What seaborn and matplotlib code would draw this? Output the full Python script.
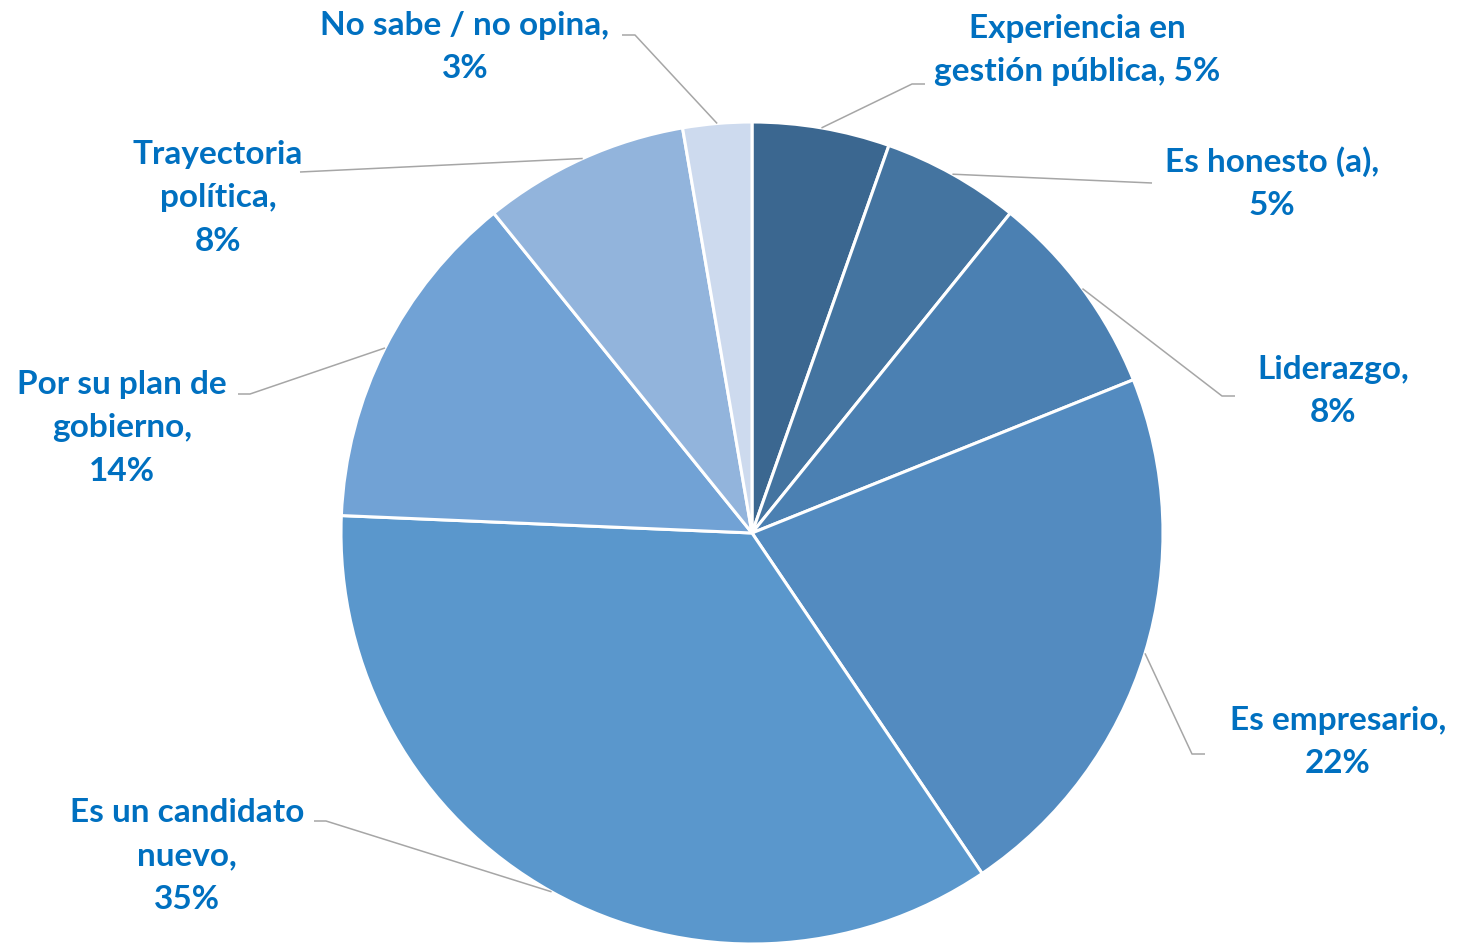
import matplotlib
matplotlib.use("Agg")
import matplotlib.pyplot as plt
import seaborn as sns
import numpy as np

# data (share of respondents, %)
nombres = ["Experiencia en\ngestión pública", "Es honesto (a)", "Liderazgo", "Es empresario",
           "Es un candidato\nnuevo", "Por su plan de\ngobierno", "Trayectoria\npolítica",
           "No sabe / no opina"]
separadores = [" ", "\n", "\n", "\n", "\n", "\n", "\n", "\n"]
valores = [5.4, 5.4, 8.1, 21.6, 35.1, 13.5, 8.1, 2.7]
colores = ["#3B6790", "#4474A0", "#4B80B2", "#538BC0", "#5A97CC", "#71A2D5", "#92B4DC", "#CDDAEE"]

# label layout in image pixels: text centre, elbow, stub end
pos_texto = [(1077, 50), (1272, 183), (1333, 391), (1338, 742),
             (187, 856), (122, 428), (218, 198), (465, 47)]
codos = [(912, 84), (1152, 183), (1222, 396), (1192, 754),
         (326, 821), (250, 394), (300, 172), (635, 35)]
finales = [(925, 84), (1152, 183), (1235, 396), (1205, 754),
           (314, 821), (238, 394), (300, 172), (622, 35)]

W, H = 1458, 943

sns.set_theme(style="white")
plt.rcParams['font.family'] = ['Lato', 'DejaVu Sans']

fig = plt.figure(figsize=(W / 100, H / 100), dpi=100)
ax = fig.add_axes([0, 0, 1, 1])

centro = (752, H - 533)
radio = 411
wedges, _ = ax.pie(valores, colors=colores, startangle=90, counterclock=False,
                   center=centro, radius=radio, frame=True,
                   wedgeprops=dict(edgecolor="white", linewidth=2.2))

for w, nom, sep, v, tp, cd, fn in zip(wedges, nombres, separadores, valores,
                                      pos_texto, codos, finales):
    ang = np.deg2rad((w.theta1 + w.theta2) / 2)
    x0 = centro[0] + radio * np.cos(ang)
    y0 = centro[1] + radio * np.sin(ang)
    ax.plot([x0, cd[0], fn[0]], [y0, H - cd[1], H - fn[1]],
            color="#A6A6A6", lw=1.1, solid_capstyle="butt")
    ax.text(tp[0], H - tp[1], f"{nom},{sep}{v:.0f}%", ha="center", va="center",
            color="#0070C0", fontsize=24, fontweight="bold", linespacing=1.6)

ax.set_xlim(0, W)
ax.set_ylim(0, H)
ax.set_aspect("equal")
ax.axis("off")

fig.savefig("out.png", dpi=100)
